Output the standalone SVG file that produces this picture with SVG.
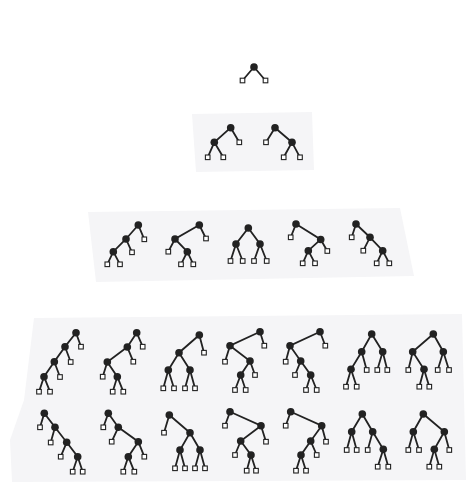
<svg xmlns="http://www.w3.org/2000/svg" width="468" height="486" viewBox="0 0 468 486">
<style>
.bg{fill:#f5f5f7;stroke:none}
.e{fill:none;stroke:#222222;stroke-width:1.8;stroke-linecap:round}
.n{fill:#222222}
.l{fill:#ffffff;stroke:#222222;stroke-width:1.1}
</style>
<rect width="468" height="486" fill="#ffffff"/>
<g id="scan">
<polygon class="bg" points="192,114 312,112 314,170 196,172"/>
<polygon class="bg" points="88,212 400,208 414,276 96,282"/>
<polygon class="bg" points="34,318 462,314 466,480 12,482 10,440 24,400"/>
</g>
<g id="connectors">
<path class="e" d="M254,67L242.5,80.5M254,67L265.5,80.5"/>
<path class="e" d="M230.7,127.7L214.3,142.3L207.7,157.3M214.3,142.3L223.3,157.3M230.7,127.7L239.3,142.3"/>
<path class="e" d="M275,127.7L266,142.3M275,127.7L292,142.3L283.7,157.3M292,142.3L300,157.3"/>
<path class="e" d="M138.3,225L126,239L113.3,251.7L107.3,264.3M113.3,251.7L120,264.3M126,239L132,252.3M138.3,225L144.3,239.3"/>
<path class="e" d="M199.3,225L175,239L168.3,251.7M175,239L187.3,251.7L181,264.3M187.3,251.7L193.3,264.3M199.3,225L206,238.5"/>
<path class="e" d="M248.3,228L236,244L230.5,261M236,244L242.7,261M248.3,228L260,244L254,261M260,244L266.7,261"/>
<path class="e" d="M296,224L290.7,237.3M296,224L320.7,239.5L308.3,250.7L302.7,263.3M308.3,250.7L315,263.3M320.7,239.5L327.3,251"/>
<path class="e" d="M356,224L351.7,237.3M356,224L370,237.3L363.3,250.7M370,237.3L382.7,250.7L376.7,263.3M382.7,250.7L389.3,263.3"/>
<path class="e" d="M76,332.7L81,346.7M76,332.7L65,346.7L70.7,362M65,346.7L54.3,361.7L60,377M54.3,361.7L44,376.7L39,391.7M44,376.7L50,391.7"/>
<path class="e" d="M136.7,332.7L142.7,346.7M136.7,332.7L127.3,347L133.3,361.7M127.3,347L107.3,362L102.7,376.7M107.3,362L117.3,376.7L112.7,391.7M117.3,376.7L123.3,391.7"/>
<path class="e" d="M199.3,335L204,352.7M199.3,335L179,352.7L168.3,370L163.3,388.3M168.3,370L174,388.3M179,352.7L190,370L185,388.3M190,370L195,388.3"/>
<path class="e" d="M260,331.7L264.3,345.7M260,331.7L230,345.7L225,361.7M230,345.7L250,361L255,375M250,361L240.7,375L235,390M240.7,375L245.7,390"/>
<path class="e" d="M320,331.7L325.3,345.7M320,331.7L290,345.7L285.7,361.7M290,345.7L300.7,361L295,375M300.7,361L310.7,375L306,390M310.7,375L316.7,390"/>
<path class="e" d="M371.7,334L361.7,351.7L351,369.3L346,386.7M351,369.3L356.7,386.7M361.7,351.7L366.7,370M371.7,334L382.7,351.7L377.3,370M382.7,351.7L387.3,370"/>
<path class="e" d="M433.3,334L412.7,351.7L408.3,370M412.7,351.7L424,369.3L419.3,386.7M424,369.3L429.3,386.7M433.3,334L443.3,351.7L437.7,370M443.3,351.7L449,370"/>
<path class="e" d="M44.3,413.3L40,427.3M44.3,413.3L55,427.3L50.7,442.5M55,427.3L66.7,442.3L60.7,456.7M66.7,442.3L77.7,456.7L72.7,471.7M77.7,456.7L82.7,471.7"/>
<path class="e" d="M108.3,413.3L103.3,427.3M108.3,413.3L118.3,427.3L111.7,441.7M118.3,427.3L138.3,441.7L144.3,456.7M138.3,441.7L128.3,456.7L123.3,471.7M128.3,456.7L134.3,471.7"/>
<path class="e" d="M169.3,415L164,432.7M169.3,415L190,432.7L180,450L175,468.3M180,450L185,468.3M190,432.7L200,450L195,468.3M200,450L205,468.3"/>
<path class="e" d="M230,411.7L225,425.7M230,411.7L261,425.7L266,441.7M261,425.7L240.7,441L235,455M240.7,441L251,455L246.7,470.7M251,455L256,470.7"/>
<path class="e" d="M290.7,411.7L285.7,425.7M290.7,411.7L321.7,425.7L326,441.7M321.7,425.7L310.7,441L316.7,455M310.7,441L301,455L296,470.7M301,455L306,470.7"/>
<path class="e" d="M362.3,414L351.7,431.7L346.7,450M351.7,431.7L356.7,450M362.3,414L372.7,431.7L367.7,450M372.7,431.7L383.3,449.3L377.7,466.7M383.3,449.3L388.3,466.7"/>
<path class="e" d="M423.3,414L413.3,431.7L408.3,450M413.3,431.7L419,450M423.3,414L444.3,431.7L449.3,450M444.3,431.7L434.3,449.3L429.3,466.7M434.3,449.3L439.3,466.7"/>
</g>
<g id="tree-1-1">
<circle class="n" cx="254" cy="67" r="3.8"/>
<rect class="l" x="240.2" y="78.2" width="4.6" height="4.6"/><rect class="l" x="263.2" y="78.2" width="4.6" height="4.6"/>
</g>
<g id="tree-2-1">
<circle class="n" cx="230.7" cy="127.7" r="3.8"/><circle class="n" cx="214.3" cy="142.3" r="3.8"/>
<rect class="l" x="237" y="140" width="4.6" height="4.6"/><rect class="l" x="205.4" y="155" width="4.6" height="4.6"/><rect class="l" x="221" y="155" width="4.6" height="4.6"/>
</g>
<g id="tree-2-2">
<circle class="n" cx="275" cy="127.7" r="3.8"/><circle class="n" cx="292" cy="142.3" r="3.8"/>
<rect class="l" x="263.7" y="140" width="4.6" height="4.6"/><rect class="l" x="281.4" y="155" width="4.6" height="4.6"/><rect class="l" x="297.7" y="155" width="4.6" height="4.6"/>
</g>
<g id="tree-3-1">
<circle class="n" cx="138.3" cy="225" r="3.8"/><circle class="n" cx="126" cy="239" r="3.8"/><circle class="n" cx="113.3" cy="251.7" r="3.8"/>
<rect class="l" x="142" y="237" width="4.6" height="4.6"/><rect class="l" x="129.7" y="250" width="4.6" height="4.6"/><rect class="l" x="105" y="262" width="4.6" height="4.6"/><rect class="l" x="117.7" y="262" width="4.6" height="4.6"/>
</g>
<g id="tree-3-2">
<circle class="n" cx="199.3" cy="225" r="3.8"/><circle class="n" cx="175" cy="239" r="3.8"/><circle class="n" cx="187.3" cy="251.7" r="3.8"/>
<rect class="l" x="203.7" y="236.2" width="4.6" height="4.6"/><rect class="l" x="166" y="249.4" width="4.6" height="4.6"/><rect class="l" x="178.7" y="262" width="4.6" height="4.6"/><rect class="l" x="191" y="262" width="4.6" height="4.6"/>
</g>
<g id="tree-3-3">
<circle class="n" cx="248.3" cy="228" r="3.8"/><circle class="n" cx="236" cy="244" r="3.8"/><circle class="n" cx="260" cy="244" r="3.8"/>
<rect class="l" x="228.2" y="258.7" width="4.6" height="4.6"/><rect class="l" x="240.4" y="258.7" width="4.6" height="4.6"/><rect class="l" x="251.7" y="258.7" width="4.6" height="4.6"/><rect class="l" x="264.4" y="258.7" width="4.6" height="4.6"/>
</g>
<g id="tree-3-4">
<circle class="n" cx="296" cy="224" r="3.8"/><circle class="n" cx="320.7" cy="239.5" r="3.8"/><circle class="n" cx="308.3" cy="250.7" r="3.8"/>
<rect class="l" x="288.4" y="235" width="4.6" height="4.6"/><rect class="l" x="325" y="248.7" width="4.6" height="4.6"/><rect class="l" x="300.4" y="261" width="4.6" height="4.6"/><rect class="l" x="312.7" y="261" width="4.6" height="4.6"/>
</g>
<g id="tree-3-5">
<circle class="n" cx="356" cy="224" r="3.8"/><circle class="n" cx="370" cy="237.3" r="3.8"/><circle class="n" cx="382.7" cy="250.7" r="3.8"/>
<rect class="l" x="349.4" y="235" width="4.6" height="4.6"/><rect class="l" x="361" y="248.4" width="4.6" height="4.6"/><rect class="l" x="374.4" y="261" width="4.6" height="4.6"/><rect class="l" x="387" y="261" width="4.6" height="4.6"/>
</g>
<g id="tree-4-1">
<circle class="n" cx="76" cy="332.7" r="3.8"/><circle class="n" cx="65" cy="346.7" r="3.8"/><circle class="n" cx="54.3" cy="361.7" r="3.8"/><circle class="n" cx="44" cy="376.7" r="3.8"/>
<rect class="l" x="78.7" y="344.4" width="4.6" height="4.6"/><rect class="l" x="68.4" y="359.7" width="4.6" height="4.6"/><rect class="l" x="57.7" y="374.7" width="4.6" height="4.6"/><rect class="l" x="36.7" y="389.4" width="4.6" height="4.6"/><rect class="l" x="47.7" y="389.4" width="4.6" height="4.6"/>
</g>
<g id="tree-4-2">
<circle class="n" cx="136.7" cy="332.7" r="3.8"/><circle class="n" cx="127.3" cy="347" r="3.8"/><circle class="n" cx="107.3" cy="362" r="3.8"/><circle class="n" cx="117.3" cy="376.7" r="3.8"/>
<rect class="l" x="140.4" y="344.4" width="4.6" height="4.6"/><rect class="l" x="131" y="359.4" width="4.6" height="4.6"/><rect class="l" x="100.4" y="374.4" width="4.6" height="4.6"/><rect class="l" x="110.4" y="389.4" width="4.6" height="4.6"/><rect class="l" x="121" y="389.4" width="4.6" height="4.6"/>
</g>
<g id="tree-4-3">
<circle class="n" cx="199.3" cy="335" r="3.8"/><circle class="n" cx="179" cy="352.7" r="3.8"/><circle class="n" cx="168.3" cy="370" r="3.8"/><circle class="n" cx="190" cy="370" r="3.8"/>
<rect class="l" x="201.7" y="350.4" width="4.6" height="4.6"/><rect class="l" x="161" y="386" width="4.6" height="4.6"/><rect class="l" x="171.7" y="386" width="4.6" height="4.6"/><rect class="l" x="182.7" y="386" width="4.6" height="4.6"/><rect class="l" x="192.7" y="386" width="4.6" height="4.6"/>
</g>
<g id="tree-4-4">
<circle class="n" cx="260" cy="331.7" r="3.8"/><circle class="n" cx="230" cy="345.7" r="3.8"/><circle class="n" cx="250" cy="361" r="3.8"/><circle class="n" cx="240.7" cy="375" r="3.8"/>
<rect class="l" x="262" y="343.4" width="4.6" height="4.6"/><rect class="l" x="222.7" y="359.4" width="4.6" height="4.6"/><rect class="l" x="252.7" y="372.7" width="4.6" height="4.6"/><rect class="l" x="232.7" y="387.7" width="4.6" height="4.6"/><rect class="l" x="243.4" y="387.7" width="4.6" height="4.6"/>
</g>
<g id="tree-4-5">
<circle class="n" cx="320" cy="331.7" r="3.8"/><circle class="n" cx="290" cy="345.7" r="3.8"/><circle class="n" cx="300.7" cy="361" r="3.8"/><circle class="n" cx="310.7" cy="375" r="3.8"/>
<rect class="l" x="323" y="343.4" width="4.6" height="4.6"/><rect class="l" x="283.4" y="359.4" width="4.6" height="4.6"/><rect class="l" x="292.7" y="372.7" width="4.6" height="4.6"/><rect class="l" x="303.7" y="387.7" width="4.6" height="4.6"/><rect class="l" x="314.4" y="387.7" width="4.6" height="4.6"/>
</g>
<g id="tree-4-6">
<circle class="n" cx="371.7" cy="334" r="3.8"/><circle class="n" cx="361.7" cy="351.7" r="3.8"/><circle class="n" cx="382.7" cy="351.7" r="3.8"/><circle class="n" cx="351" cy="369.3" r="3.8"/>
<rect class="l" x="364.4" y="367.7" width="4.6" height="4.6"/><rect class="l" x="375" y="367.7" width="4.6" height="4.6"/><rect class="l" x="385" y="367.7" width="4.6" height="4.6"/><rect class="l" x="343.7" y="384.4" width="4.6" height="4.6"/><rect class="l" x="354.4" y="384.4" width="4.6" height="4.6"/>
</g>
<g id="tree-4-7">
<circle class="n" cx="433.3" cy="334" r="3.8"/><circle class="n" cx="412.7" cy="351.7" r="3.8"/><circle class="n" cx="443.3" cy="351.7" r="3.8"/><circle class="n" cx="424" cy="369.3" r="3.8"/>
<rect class="l" x="406" y="367.7" width="4.6" height="4.6"/><rect class="l" x="435.4" y="367.7" width="4.6" height="4.6"/><rect class="l" x="446.7" y="367.7" width="4.6" height="4.6"/><rect class="l" x="417" y="384.4" width="4.6" height="4.6"/><rect class="l" x="427" y="384.4" width="4.6" height="4.6"/>
</g>
<g id="tree-4-8">
<circle class="n" cx="44.3" cy="413.3" r="3.8"/><circle class="n" cx="55" cy="427.3" r="3.8"/><circle class="n" cx="66.7" cy="442.3" r="3.8"/><circle class="n" cx="77.7" cy="456.7" r="3.8"/>
<rect class="l" x="37.7" y="425" width="4.6" height="4.6"/><rect class="l" x="48.4" y="440.2" width="4.6" height="4.6"/><rect class="l" x="58.4" y="454.4" width="4.6" height="4.6"/><rect class="l" x="70.4" y="469.4" width="4.6" height="4.6"/><rect class="l" x="80.4" y="469.4" width="4.6" height="4.6"/>
</g>
<g id="tree-4-9">
<circle class="n" cx="108.3" cy="413.3" r="3.8"/><circle class="n" cx="118.3" cy="427.3" r="3.8"/><circle class="n" cx="138.3" cy="441.7" r="3.8"/><circle class="n" cx="128.3" cy="456.7" r="3.8"/>
<rect class="l" x="101" y="425" width="4.6" height="4.6"/><rect class="l" x="109.4" y="439.4" width="4.6" height="4.6"/><rect class="l" x="142" y="454.4" width="4.6" height="4.6"/><rect class="l" x="121" y="469.4" width="4.6" height="4.6"/><rect class="l" x="132" y="469.4" width="4.6" height="4.6"/>
</g>
<g id="tree-4-10">
<circle class="n" cx="169.3" cy="415" r="3.8"/><circle class="n" cx="190" cy="432.7" r="3.8"/><circle class="n" cx="180" cy="450" r="3.8"/><circle class="n" cx="200" cy="450" r="3.8"/>
<rect class="l" x="161.7" y="430.4" width="4.6" height="4.6"/><rect class="l" x="172.7" y="466" width="4.6" height="4.6"/><rect class="l" x="182.7" y="466" width="4.6" height="4.6"/><rect class="l" x="192.7" y="466" width="4.6" height="4.6"/><rect class="l" x="202.7" y="466" width="4.6" height="4.6"/>
</g>
<g id="tree-4-11">
<circle class="n" cx="230" cy="411.7" r="3.8"/><circle class="n" cx="261" cy="425.7" r="3.8"/><circle class="n" cx="240.7" cy="441" r="3.8"/><circle class="n" cx="251" cy="455" r="3.8"/>
<rect class="l" x="222.7" y="423.4" width="4.6" height="4.6"/><rect class="l" x="263.7" y="439.4" width="4.6" height="4.6"/><rect class="l" x="232.7" y="452.7" width="4.6" height="4.6"/><rect class="l" x="244.4" y="468.4" width="4.6" height="4.6"/><rect class="l" x="253.7" y="468.4" width="4.6" height="4.6"/>
</g>
<g id="tree-4-12">
<circle class="n" cx="290.7" cy="411.7" r="3.8"/><circle class="n" cx="321.7" cy="425.7" r="3.8"/><circle class="n" cx="310.7" cy="441" r="3.8"/><circle class="n" cx="301" cy="455" r="3.8"/>
<rect class="l" x="283.4" y="423.4" width="4.6" height="4.6"/><rect class="l" x="323.7" y="439.4" width="4.6" height="4.6"/><rect class="l" x="314.4" y="452.7" width="4.6" height="4.6"/><rect class="l" x="293.7" y="468.4" width="4.6" height="4.6"/><rect class="l" x="303.7" y="468.4" width="4.6" height="4.6"/>
</g>
<g id="tree-4-13">
<circle class="n" cx="362.3" cy="414" r="3.8"/><circle class="n" cx="351.7" cy="431.7" r="3.8"/><circle class="n" cx="372.7" cy="431.7" r="3.8"/><circle class="n" cx="383.3" cy="449.3" r="3.8"/>
<rect class="l" x="344.4" y="447.7" width="4.6" height="4.6"/><rect class="l" x="354.4" y="447.7" width="4.6" height="4.6"/><rect class="l" x="365.4" y="447.7" width="4.6" height="4.6"/><rect class="l" x="375.4" y="464.4" width="4.6" height="4.6"/><rect class="l" x="386" y="464.4" width="4.6" height="4.6"/>
</g>
<g id="tree-4-14">
<circle class="n" cx="423.3" cy="414" r="3.8"/><circle class="n" cx="413.3" cy="431.7" r="3.8"/><circle class="n" cx="444.3" cy="431.7" r="3.8"/><circle class="n" cx="434.3" cy="449.3" r="3.8"/>
<rect class="l" x="406" y="447.7" width="4.6" height="4.6"/><rect class="l" x="416.7" y="447.7" width="4.6" height="4.6"/><rect class="l" x="447" y="447.7" width="4.6" height="4.6"/><rect class="l" x="427" y="464.4" width="4.6" height="4.6"/><rect class="l" x="437" y="464.4" width="4.6" height="4.6"/>
</g>
</svg>
